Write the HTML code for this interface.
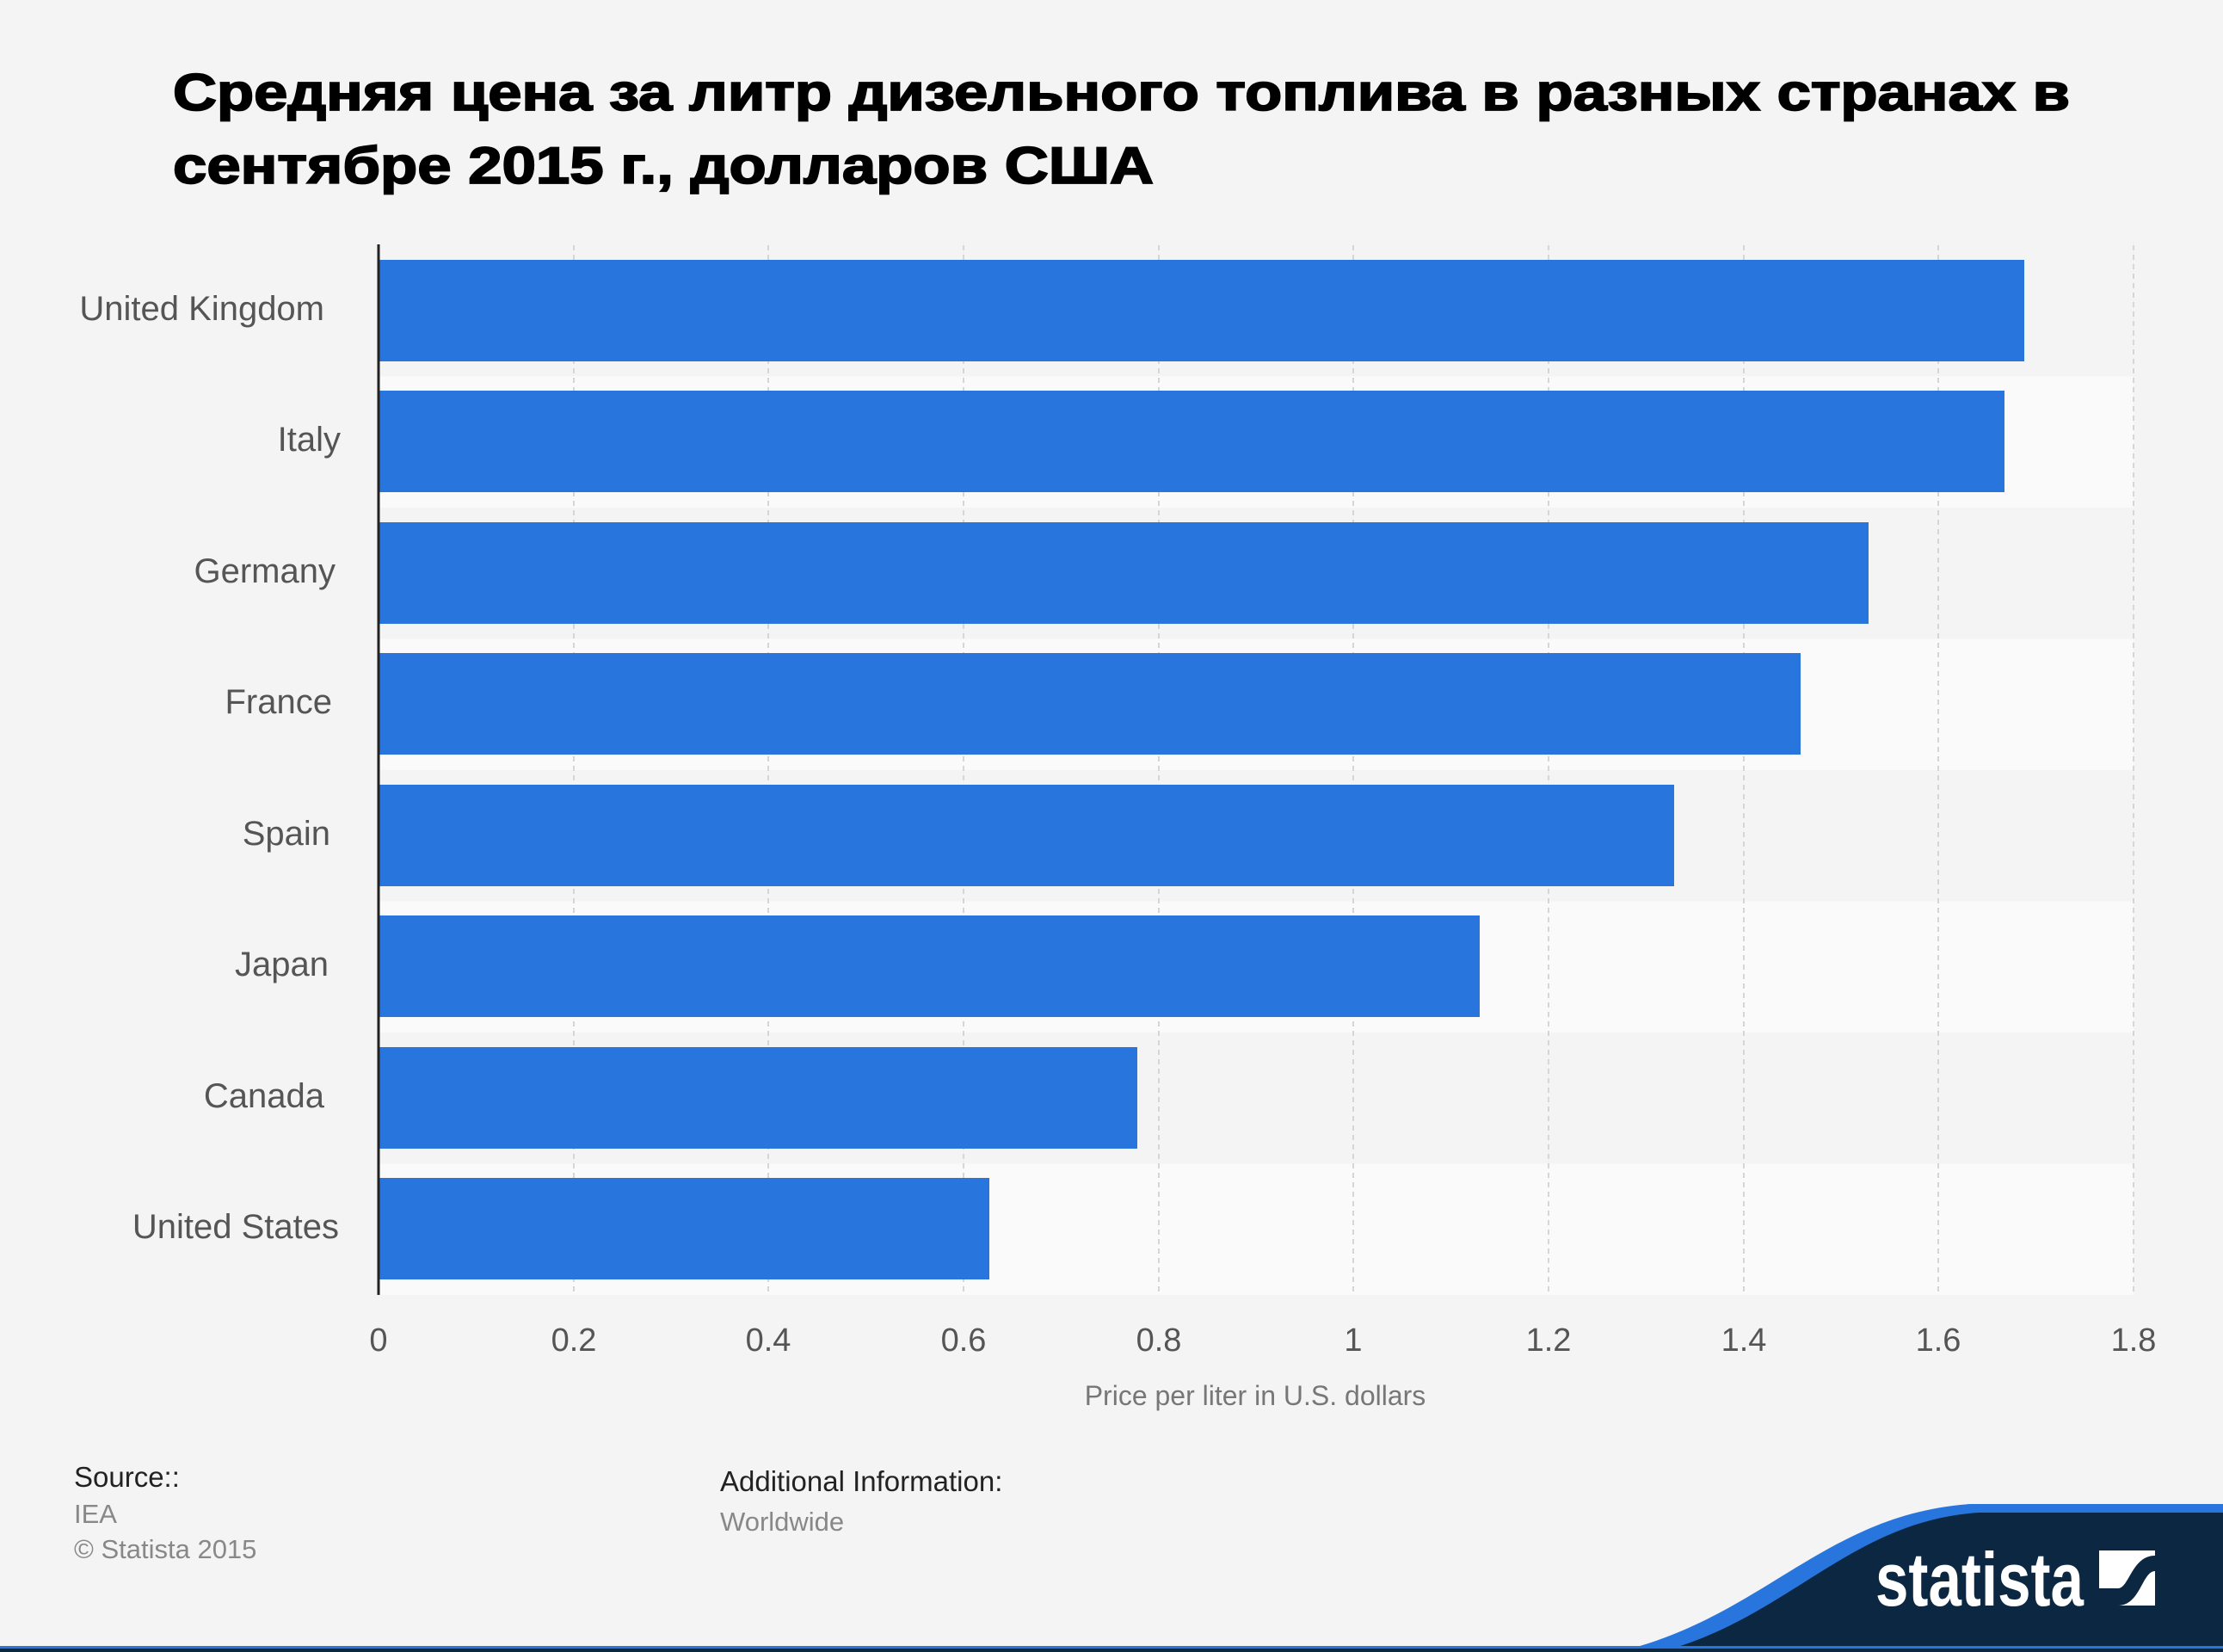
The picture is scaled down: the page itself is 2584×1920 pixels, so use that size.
<!DOCTYPE html>
<html><head><meta charset="utf-8"><style>
html,body{margin:0;padding:0;background:#f4f4f4;}
svg{display:block;}
</style></head><body>
<svg width="2584" height="1920" viewBox="0 0 2584 1920" xmlns="http://www.w3.org/2000/svg" font-family="'Liberation Sans','DejaVu Sans',sans-serif">
<rect width="2584" height="1920" fill="#f4f4f4"/>
<g stroke="#000" stroke-width="1.8" fill="#000" font-size="60" font-weight="bold">
<text x="201" y="128" textLength="2205" lengthAdjust="spacingAndGlyphs">Средняя цена за литр дизельного топлива в разных странах в</text>
<text x="201" y="213" textLength="1140" lengthAdjust="spacingAndGlyphs">сентябре 2015 г., долларов США</text>
</g>
<g>
<rect x="440" y="285" width="2040" height="152.5" fill="#f4f4f4"/>
<rect x="440" y="437.5" width="2040" height="152.5" fill="#fafafa"/>
<rect x="440" y="590" width="2040" height="152.5" fill="#f4f4f4"/>
<rect x="440" y="742.5" width="2040" height="152.5" fill="#fafafa"/>
<rect x="440" y="895" width="2040" height="152.5" fill="#f4f4f4"/>
<rect x="440" y="1047.5" width="2040" height="152.5" fill="#fafafa"/>
<rect x="440" y="1200" width="2040" height="152.5" fill="#f4f4f4"/>
<rect x="440" y="1352.5" width="2040" height="152.5" fill="#fafafa"/>
</g>
<g stroke="#d6d6d6" stroke-width="2" stroke-dasharray="6,5">
<line x1="667" y1="285" x2="667" y2="1505"/>
<line x1="893" y1="285" x2="893" y2="1505"/>
<line x1="1120" y1="285" x2="1120" y2="1505"/>
<line x1="1347" y1="285" x2="1347" y2="1505"/>
<line x1="1573" y1="285" x2="1573" y2="1505"/>
<line x1="1800" y1="285" x2="1800" y2="1505"/>
<line x1="2027" y1="285" x2="2027" y2="1505"/>
<line x1="2253" y1="285" x2="2253" y2="1505"/>
<line x1="2480" y1="285" x2="2480" y2="1505"/>
</g>
<g fill="#2876dd">
<rect x="440" y="302" width="1913" height="118"/>
<rect x="440" y="454" width="1890" height="118"/>
<rect x="440" y="607" width="1732" height="118"/>
<rect x="440" y="759" width="1653" height="118"/>
<rect x="440" y="912" width="1506" height="118"/>
<rect x="440" y="1064" width="1280" height="118"/>
<rect x="440" y="1217" width="882" height="118"/>
<rect x="440" y="1369" width="710" height="118"/>
</g>
<line x1="440" y1="284" x2="440" y2="1505" stroke="#222" stroke-width="3"/>
<g font-size="40" fill="#555" text-anchor="end">
<text x="377" y="372">United Kingdom</text>
<text x="396" y="524">Italy</text>
<text x="390" y="677">Germany</text>
<text x="386" y="829">France</text>
<text x="384" y="982">Spain</text>
<text x="382" y="1134">Japan</text>
<text x="377" y="1287">Canada</text>
<text x="394" y="1439">United States</text>
</g>
<g font-size="38" fill="#555" text-anchor="middle">
<text x="440" y="1570">0</text>
<text x="667" y="1570">0.2</text>
<text x="893" y="1570">0.4</text>
<text x="1120" y="1570">0.6</text>
<text x="1347" y="1570">0.8</text>
<text x="1573" y="1570">1</text>
<text x="1800" y="1570">1.2</text>
<text x="2027" y="1570">1.4</text>
<text x="2253" y="1570">1.6</text>
<text x="2480" y="1570">1.8</text>
</g>
<text x="1459" y="1633" font-size="32" fill="#777" text-anchor="middle">Price per liter in U.S. dollars</text>
<text x="86" y="1728" font-size="33" fill="#222">Source::</text>
<text x="86" y="1770" font-size="31" fill="#888">IEA</text>
<text x="86" y="1811" font-size="31" fill="#888">© Statista 2015</text>
<text x="837" y="1733" font-size="33" fill="#222">Additional Information:</text>
<text x="837" y="1779" font-size="31" fill="#888">Worldwide</text>
<path d="M1880,1920 C2050,1880 2120,1760 2290,1748 L2584,1748 L2584,1920 Z" fill="#2876dd"/>
<path d="M1930,1920 C2080,1880 2150,1768 2300,1758 L2584,1758 L2584,1920 Z" fill="#0b2741"/>
<rect x="0" y="1913" width="2584" height="7" fill="#2876dd"/>
<rect x="0" y="1916" width="2584" height="4" fill="#0b2741"/>
<text x="2180" y="1866" font-size="88" font-weight="bold" fill="#fff" textLength="242" lengthAdjust="spacingAndGlyphs">statista</text>
<rect x="2440" y="1802" width="65" height="64" fill="#fff"/>
<path d="M2440,1846 L2462,1846 C2475,1846 2478,1808 2505,1808 L2505,1826 C2490,1826 2488,1866 2462,1866 L2440,1866 Z" fill="#0b2741"/>
</svg>
</body></html>
